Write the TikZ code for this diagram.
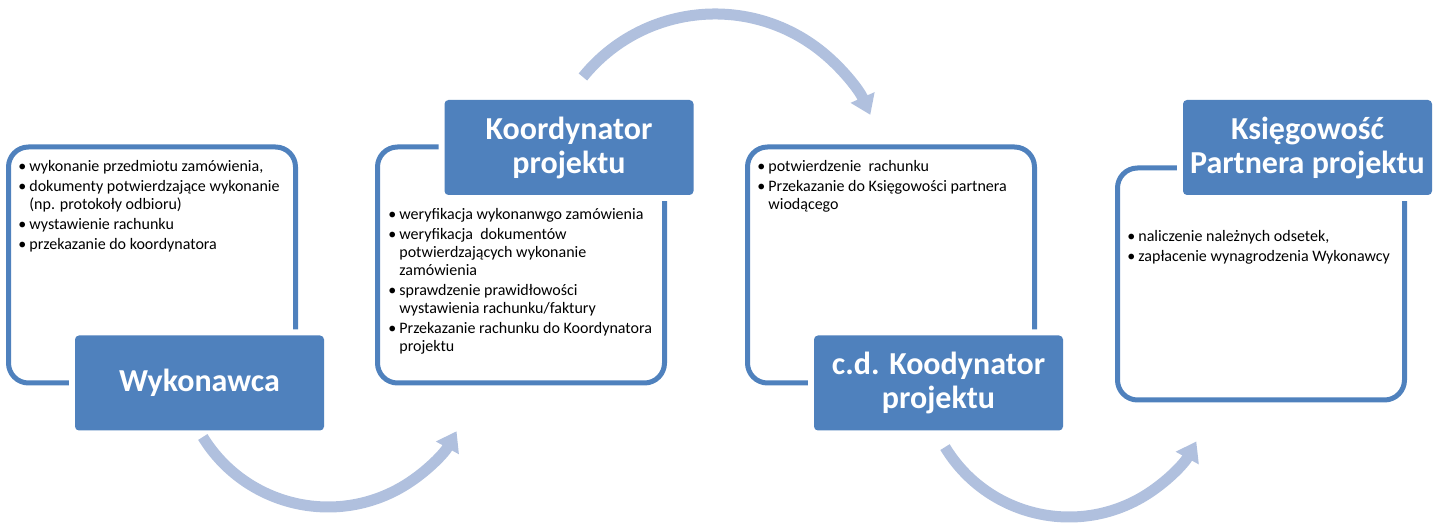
\documentclass[tikz,border=0pt]{standalone}
\usepackage{fontspec}
\setmainfont{Carlito}
\usetikzlibrary{arrows.meta}
\definecolor{accent}{RGB}{79,129,189}
\definecolor{flowblue}{RGB}{176,192,222}
\newcommand{\itemdot}{\makebox[5.5pt][l]{\textbullet}}
\newcommand{\itemgap}{\hspace*{5.5pt}}

\begin{document}
\begin{tikzpicture}[x=0.5pt,y=0.5pt,
  panel/.style={draw=accent,line width=2.5pt,rounded corners=10pt,
    minimum width=143.5pt,minimum height=118pt,inner sep=0pt},
  headbox/.style={fill=accent,preaction={draw=white,line width=6pt},
    rounded corners=2pt,minimum width=124.5pt,minimum height=47.5pt,
    inner sep=0pt,text=white,align=center,
    font=\fontsize{16}{17}\selectfont\bfseries},
  itemtext/.style={anchor=north west,inner sep=0pt,align=left,
    font=\fontsize{8}{9}\selectfont},
  flowarrow/.style={draw=flowblue,line width=5.5pt,
    -{Triangle[length=9.5pt,width=12.5pt]}}]
  \useasboundingbox (0,0) rectangle (1442,524);

  % outlined panels
  \node[panel] (wykpanel) at (152,259) {};
  \node[panel] (korpanel) at (521,259) {};
  \node[panel] (cdpanel) at (891,259) {};
  \node[panel,minimum height=116pt] (ksipanel) at (1261,240) {};

  % titles
  \node[headbox] (wyk) at (199.5,141) {Wykonawca};
  \node[headbox] (kor) at (569,376.5) {Koordynator\\projektu};
  \node[headbox] (cd) at (938.5,141) {c.d. Koodynator\\projektu};
  \node[headbox] (ksi) at (1307.5,376.5) {Księgowość\\Partnera projektu};

  % bullet lists
  \node[itemtext] (wyktxt) at (18,364) {\itemdot wykonanie przedmiotu zamówienia,\\[1pt]
    \itemdot dokumenty potwierdzające wykonanie\\
    \itemgap(np. protokoły odbioru)\\[1pt]
    \itemdot wystawienie rachunku\\[1pt]
    \itemdot przekazanie do koordynatora};
  \node[itemtext] (kortxt) at (388,316) {\itemdot weryfikacja wykonanwgo zamówienia\\[1pt]
    \itemdot weryfikacja\ \ dokumentów\\
    \itemgap potwierdzających wykonanie\\
    \itemgap zamówienia\\[1pt]
    \itemdot sprawdzenie prawidłowości\\
    \itemgap wystawienia rachunku/faktury\\[1pt]
    \itemdot Przekazanie rachunku do Koordynatora\\
    \itemgap projektu};
  \node[itemtext] (cdtxt) at (757,364) {\itemdot potwierdzenie\ \ rachunku\\[1pt]
    \itemdot Przekazanie do Księgowości partnera\\
    \itemgap wiodącego};
  \node[itemtext] (ksitxt) at (1127,294) {\itemdot naliczenie należnych odsetek,\\[1pt]
    \itemdot zapłacenie wynagrodzenia Wykonawcy};

  % curved arrows between steps
  \coordinate (arc1) at (202.8,87);
  \coordinate (arc2) at (582.9,447);
  \coordinate (arc3) at (945,76.9);
  \draw[flowarrow] (arc1) arc[start angle=211.6,end angle=331,radius=147];
  \draw[flowarrow] (arc2) arc[start angle=141,end angle=24,radius=170];
  \draw[flowarrow] (arc3) arc[start angle=211.2,end angle=331.4,radius=145];
\end{tikzpicture}
\end{document}
